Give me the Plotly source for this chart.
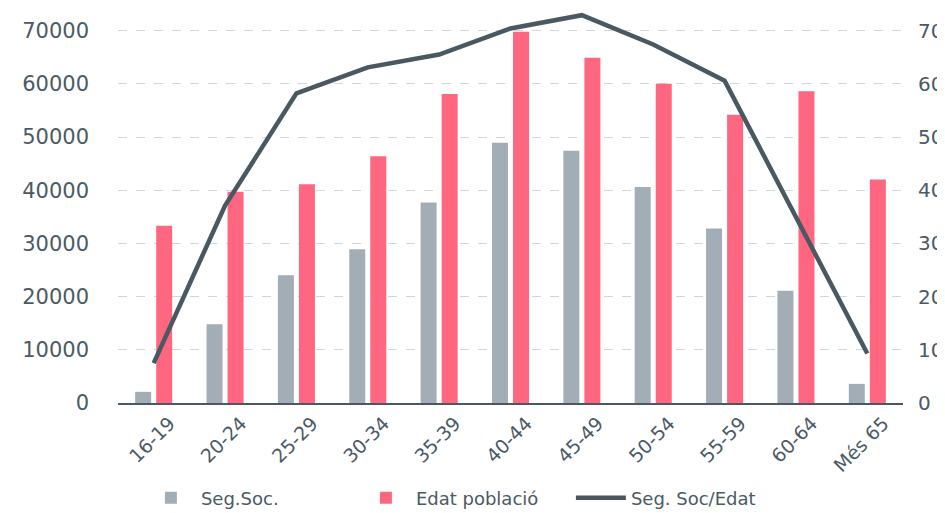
import plotly.graph_objects as go

categories = ["16-19", "20-24", "25-29", "30-34", "35-39", "40-44", "45-49", "50-54", "55-59", "60-64", "Més 65"]
seg_soc = [2100, 14800, 24000, 28900, 37700, 48900, 47400, 40600, 32800, 21100, 3600]
edat_poblacio = [33300, 39700, 41100, 46400, 58100, 69800, 64900, 60000, 54200, 58600, 42000]
seg_soc_edat = [7.5, 37.1, 58.2, 63.1, 65.5, 70.4, 72.9, 67.4, 60.6, 34.8, 9.3]

GREY = "#a3adb6"
RED = "#ff6680"
DARK = "#4a5862"
TXT = "#4a5a66"
FONT = "DejaVu Sans"

fig = go.Figure()
fig.add_trace(go.Bar(x=categories, y=seg_soc, name="Seg.Soc.", marker=dict(color=GREY, line=dict(width=0))))
fig.add_trace(go.Bar(x=categories, y=edat_poblacio, name="Edat població", marker=dict(color=RED, line=dict(width=0))))
fig.add_trace(go.Scatter(x=categories, y=seg_soc_edat, name="Seg. Soc/Edat", mode="lines",
                         line=dict(color=DARK, width=4.5), yaxis="y2"))

fig.update_layout(
    width=945, height=513,
    margin=dict(l=110, r=50, t=4, b=110),
    paper_bgcolor="white", plot_bgcolor="white",
    barmode="group", bargap=0.41, bargroupgap=0.24,
    font=dict(family=FONT, color=TXT, size=18),
    showlegend=True,
    legend=dict(orientation="h", x=0.44, xanchor="center", y=-0.243, yanchor="middle",
                font=dict(size=18, color=TXT), itemwidth=50, traceorder="normal",
                entrywidth=150, entrywidthmode="pixels"),
    xaxis=dict(tickangle=-45, showgrid=False, showline=True, linecolor=DARK, linewidth=2,
               tickfont=dict(size=19, color=TXT), ticks="", ticklabelshift=16),
    yaxis=dict(range=[0, 73500], tick0=0, dtick=10000, showgrid=True, gridcolor="#cfd6dd",
               griddash="dash", gridwidth=1, zeroline=False, showline=False,
               tickfont=dict(size=21, color=TXT), ticklabelstandoff=28, tickformat="d"),
    yaxis2=dict(range=[0, 73.5], tick0=0, dtick=10, overlaying="y", side="right",
                showgrid=False, zeroline=False, showline=False,
                tickfont=dict(size=20, color=TXT), ticklabelstandoff=14),
)

fig.write_html("out.html")
